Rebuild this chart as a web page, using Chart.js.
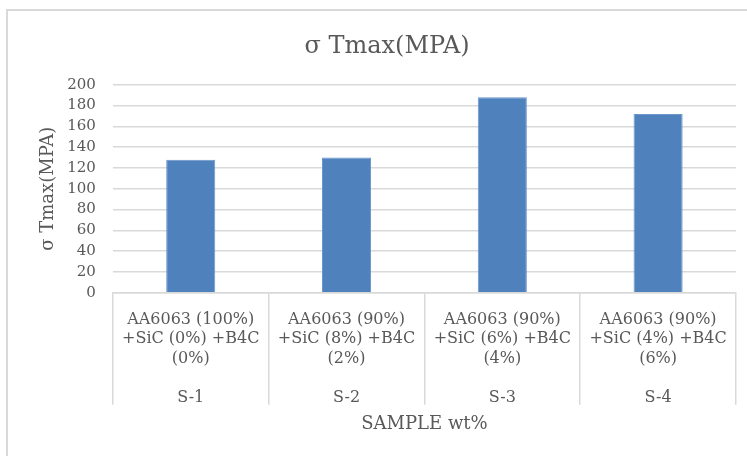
<!DOCTYPE html>
<html>
<head>
<meta charset="utf-8">
<script src="https://cdn.jsdelivr.net/npm/chart.js@4/dist/chart.umd.min.js"></script>
<style>
    html, body { margin: 0; padding: 0; background: #fff; overflow: hidden; }
    #frame {
        position: absolute; left: 6px; top: 9px; width: 800px; height: 500px;
        border-left: 2px solid #d9d9d9; border-top: 2px solid #d9d9d9;
    }
    #wrap { position: absolute; left: 0; top: 0; width: 747px; height: 456px; }
</style>
</head>
<body>
<div id="frame"></div>
<div id="wrap"><canvas id="strengthChart"></canvas></div>
<script>
const mixLabels = [
    ['AA6063 (100%)', '+SiC (0%) +B4C', '(0%)'],
    ['AA6063 (90%)', '+SiC (8%) +B4C', '(2%)'],
    ['AA6063 (90%)', '+SiC (6%) +B4C', '(4%)'],
    ['AA6063 (90%)', '+SiC (4%) +B4C', '(6%)']
];
const sampleNames = ['S-1', 'S-2', 'S-3', 'S-4'];
const tmaxValues = [128, 130, 188, 172];
const yTicks = [0, 20, 40, 60, 80, 100, 120, 140, 160, 180, 200];

const textGrey = '#595959';
const lineGrey = '#d9d9d9';
const serif = "'DejaVu Serif', 'Liberation Serif', serif";

// each category label: mix lines, blank line, then the sample name
const labels = mixLabels.map((m, i) => [...m, '', sampleNames[i]]);

// note: scale.fit() counts ticks.padding twice, drawing uses it once,
// so the title paddings below make up the difference
new Chart(document.getElementById('strengthChart'), {
    type: 'bar',
    data: {
        labels: labels,
        datasets: [{
            label: 'σ Tmax(MPA)',
            data: tmaxValues,
            backgroundColor: '#4f81bd',
            borderColor: '#6a96cc',
            borderWidth: 1,
            categoryPercentage: 1,
            barPercentage: 0.315
        }]
    },
    options: {
        responsive: true,
        maintainAspectRatio: false,
        animation: false,
        layout: { padding: { top: 12, left: 38, right: 11, bottom: 21 } },
        plugins: {
            legend: { display: false },
            tooltip: { enabled: false },
            title: {
                display: true,
                text: 'σ Tmax(MPA)',
                color: textGrey,
                font: { family: serif, size: 24, weight: 'normal' },
                padding: { top: 20, bottom: 24 }
            }
        },
        scales: {
            x: {
                grid: {
                    offset: true,
                    drawOnChartArea: false,
                    drawTicks: true,
                    tickLength: 112,
                    color: lineGrey,
                    lineWidth: 1.5
                },
                border: { display: true, color: lineGrey, width: 1.5 },
                ticks: {
                    color: textGrey,
                    font: { family: serif, size: 16, lineHeight: 1.22 },
                    padding: -95,
                    maxRotation: 0,
                    autoSkip: false
                },
                title: {
                    display: true,
                    text: 'SAMPLE wt%',
                    color: textGrey,
                    font: { family: serif, size: 18 },
                    padding: { top: 101, bottom: 0 }
                }
            },
            y: {
                min: yTicks[0],
                max: yTicks[yTicks.length - 1],
                afterBuildTicks: (scale) => { scale.ticks = yTicks.map(v => ({ value: v })); },
                grid: { color: lineGrey, lineWidth: 1.5, drawTicks: false },
                border: { display: false },
                ticks: {
                    color: textGrey,
                    font: { family: serif, size: 15 },
                    padding: 17,
                    autoSkip: false
                },
                title: {
                    display: true,
                    text: 'σ Tmax(MPA)',
                    color: textGrey,
                    font: { family: serif, size: 18 },
                    padding: { top: 0, bottom: -9.4 }
                }
            }
        }
    }
});
</script>
</body>
</html>
